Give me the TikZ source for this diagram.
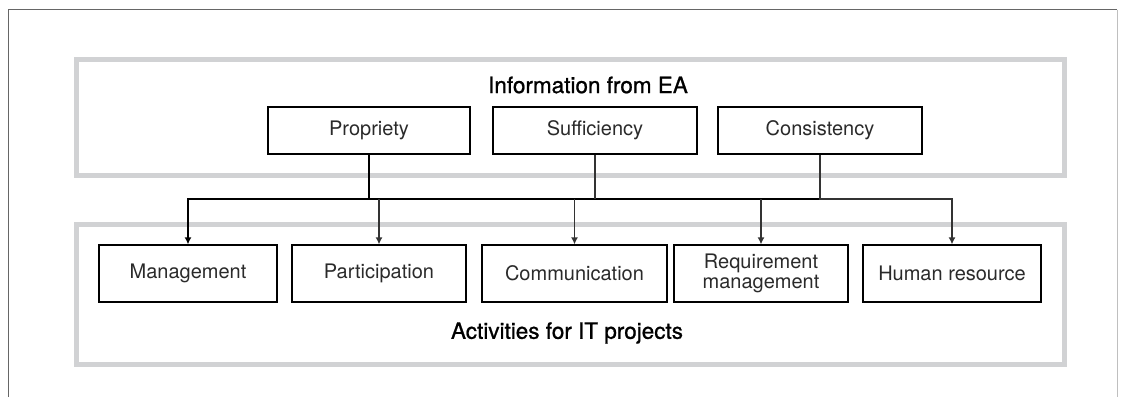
\documentclass[tikz,border=0pt]{standalone}
\usepackage{fontspec}
\setmainfont{TeX Gyre Heros}
\newfontfamily\headfont{TeX Gyre Heros}[FakeBold=0.9]
\usetikzlibrary{arrows.meta}
\definecolor{panelgrey}{HTML}{D1D2D4}
\definecolor{framegrey}{HTML}{666666}
\definecolor{inkgrey}{HTML}{2A2A2A}
\tikzset{
  itembox/.style={draw=black, line width=1.3pt, minimum height=47pt, inner sep=0pt,
    text=inkgrey, font=\fontsize{20}{20}\selectfont, align=center},
  actbox/.style={itembox, minimum height=57pt},
  panel/.style={draw=panelgrey, line width=5pt},
  heading/.style={font=\headfont\fontsize{22.5}{24}\selectfont, text=black, inner sep=0pt},
  trunk/.style={draw=black, line width=1.9pt},
  branch/.style={draw=black!80, line width=1.3pt},
  tip/.style={-{Latex[length=7pt,width=7pt]}}
}
\begin{document}
\begin{tikzpicture}[x=1pt,y=-1pt]
\useasboundingbox (0,0) rectangle (1127,397);

% page frame (open at the bottom)
\draw[framegrey, line width=1.3pt] (8.5,397) -- (8.5,9.5) -- (1117,9.5);
\draw[black!25, line width=1pt] (1117,9.5) -- (1117,397);

% grey panels
\draw[panel] (76.5,59.5) rectangle (1064.5,175.5);
\draw[panel] (76.5,224) rectangle (1064.5,364);

% headings
\node[heading] (infohead) at (588,85) {Information from EA};
\node[heading] (acthead) at (567,333) {Activities for IT projects};

% information qualities
\node[itembox, minimum width=202pt] (prop) at (369,130.5) {Propriety};
\node[itembox, minimum width=204pt] (suff) at (595,130.5) {Sufficiency};
\node[itembox, minimum width=204pt] (cons) at (820,130.5) {Consistency};

% project activities
\node[actbox, minimum width=178pt] (mgmt) at (188,273.5) {Management};
\node[actbox, minimum width=174pt] (part) at (379,273.5) {Participation};
\node[actbox, minimum width=185pt] (comm) at (574.5,273.5) {Communication};
\node[actbox, minimum width=174pt] (req)  at (761,273.5) {Requirement\\management};
\node[actbox, minimum width=178pt] (hr)   at (952,273.5) {Human resource};

% distribution bus
\coordinate (bus) at (0,199);
\draw[trunk, tip] (prop.south) |- (mgmt.north |- bus) -- (mgmt.north);
\draw[trunk] (prop.south |- bus) -- (cons.south |- bus);
\draw[branch] (suff.south) -- (suff.south |- bus);
\draw[branch, tip] (cons.south) -- (cons.south |- bus) -- (hr.north |- bus) -- (hr.north);
\draw[branch, tip] (part.north |- bus) -- (part.north);
\draw[branch, tip] (comm.north |- bus) -- (comm.north);
\draw[branch, tip] (req.north |- bus) -- (req.north);
\end{tikzpicture}
\end{document}
